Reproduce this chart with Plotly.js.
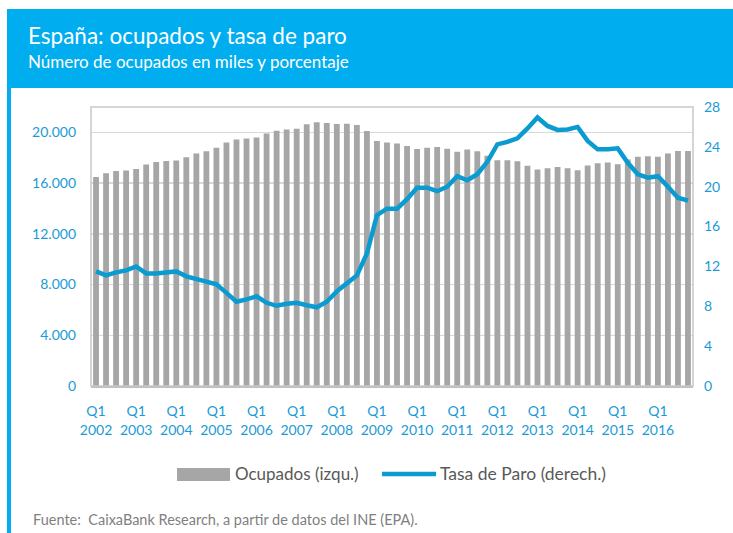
<!DOCTYPE html>
<html>
<head>
<meta charset="utf-8">
<script src="https://cdn.plot.ly/plotly-3.0.1.min.js"></script>
<style>
html,body{margin:0;padding:0;background:#fff;}
#chart{width:733px;height:533px;}
</style>
</head>
<body>
<div id="chart"></div>
<script>
// Quarters 2002 Q1 .. 2016 Q4
const years = [2002,2003,2004,2005,2006,2007,2008,2009,2010,2011,2012,2013,2014,2015,2016];
const quarters = [];
years.forEach(y => { for (let q = 1; q <= 4; q++) quarters.push("Q" + q + " " + y); });

// Ocupados (miles) - left axis
const ocupados = [
  16490,16780,16960,17000,17120,17470,17670,17750,17780,18040,
  18330,18520,18780,19200,19440,19520,19600,19910,20120,20230,
  20280,20630,20790,20730,20650,20670,20590,20100,19310,19210,
  19130,18920,18680,18780,18840,18700,18470,18650,18520,18150,
  17810,17810,17730,17360,17080,17180,17260,17180,17020,17390,
  17570,17630,17490,17860,18070,18120,18070,18340,18540,18540
];

// Tasa de paro (%) - right axis
const tasaParo = [
  11.5,11.1,11.4,11.6,12.0,11.3,11.3,11.4,11.5,11.0,
  10.7,10.5,10.2,9.35,8.45,8.7,9.0,8.35,8.05,8.25,
  8.35,8.1,7.9,8.45,9.5,10.3,11.1,13.3,17.15,17.8,
  17.8,18.75,19.9,19.9,19.55,20.0,21.05,20.65,21.25,22.5,
  24.25,24.5,24.85,25.85,26.95,26.1,25.7,25.75,26.0,24.6,
  23.75,23.75,23.85,22.4,21.25,20.9,21.05,20.0,18.9,18.6
];

const tickVals = quarters.filter(q => q.startsWith("Q1"));
const tickText = tickVals.map(q => q.replace(" ", "<br>"));

const leftTicks = [0,4000,8000,12000,16000,20000];
const rightTicks = [0,4,8,12,16,20,24,28];

const legendNames = ["Ocupados (izqu.)", "Tasa de Paro (derech.)"];
const titleText = "España: ocupados y tasa de paro";
const subtitleText = "Número de ocupados en miles y porcentaje";
const sourceText = "Fuente:  CaixaBank Research, a partir de datos del INE (EPA).";

// layout geometry (pixels)
const W = 733, H = 533;
const M = {l: 91, r: 40, t: 107, b: 147};
const PW = W - M.l - M.r, PH = H - M.t - M.b;
const px = x => (x - M.l) / PW;
const py = y => (H - M.b - y) / PH;

const blue = "#00adef";
const lineBlue = "#0a9bd0";
const tickBlue = "#1a9ad6";
const barGray = "#a6a6a6";
const FONT = "Lato, 'Open Sans', sans-serif";

const traces = [
  {
    type: "bar", x: quarters, y: ocupados, name: legendNames[0],
    marker: {color: barGray}, yaxis: "y", showlegend: false,
    hoverinfo: "x+y"
  },
  {
    type: "scatter", mode: "lines", x: quarters, y: tasaParo, name: legendNames[1],
    line: {color: lineBlue, width: 4.5}, yaxis: "y2", showlegend: false
  }
];

const shapes = [
  // header band
  {type:"rect", xref:"paper", yref:"paper", x0:px(7), x1:px(733), y0:py(88), y1:py(9),
   fillcolor: blue, line:{width:0}, layer:"below"},
  // left stripe
  {type:"rect", xref:"paper", yref:"paper", x0:px(7), x1:px(11), y0:py(533), y1:py(88),
   fillcolor: blue, line:{width:0}, layer:"below"},
  // plot frame
  {type:"rect", xref:"paper", yref:"paper", x0:0, x1:1, y0:0, y1:1,
   fillcolor:"rgba(0,0,0,0)", line:{color:"#c8c8c8", width:1.5}, layer:"above"},
  // legend swatches
  {type:"rect", xref:"paper", yref:"paper", x0:px(177), x1:px(230), y0:py(481), y1:py(468),
   fillcolor: barGray, line:{width:0}},
  {type:"line", xref:"paper", yref:"paper", x0:px(382), x1:px(436), y0:py(474), y1:py(474),
   line:{color: lineBlue, width: 4.5}}
];

const annotations = [
  {text: titleText, xref:"paper", yref:"paper", x:px(26), y:py(35), xanchor:"left", yanchor:"middle",
   showarrow:false, font:{family:FONT, size:22.5, color:"#ffffff"}},
  {text: subtitleText, xref:"paper", yref:"paper", x:px(26), y:py(61), xanchor:"left", yanchor:"middle",
   showarrow:false, font:{family:FONT, size:17, color:"#ffffff"}},
  {text: legendNames[0], xref:"paper", yref:"paper", x:px(233), y:py(474), xanchor:"left", yanchor:"middle",
   showarrow:false, font:{family:FONT, size:17, color:"#595959"}},
  {text: legendNames[1], xref:"paper", yref:"paper", x:px(438), y:py(474), xanchor:"left", yanchor:"middle",
   showarrow:false, font:{family:FONT, size:17.5, color:"#595959"}},
  {text: sourceText, xref:"paper", yref:"paper", x:px(31), y:py(519), xanchor:"left", yanchor:"middle",
   showarrow:false, font:{family:FONT, size:14.5, color:"#7f7f7f"}}
];

const layout = {
  width: W, height: H,
  margin: M,
  paper_bgcolor: "#ffffff", plot_bgcolor: "#ffffff",
  separators: ",.",
  bargap: 0.42,
  font: {family: FONT, size: 14, color: tickBlue},
  xaxis: {
    type: "category", categoryorder: "array", categoryarray: quarters,
    range: [-0.5, quarters.length - 0.5],
    tickmode: "array", tickvals: tickVals, ticktext: tickText,
    tickangle: 0,
    showgrid: false, zeroline: false, showline: true, linecolor: "#bfbfbf", linewidth: 1.5,
    ticks: "", ticklen: 0, ticklabelstandoff: 12,
    tickfont: {family: FONT, size: 14, color: tickBlue}
  },
  yaxis: {
    range: [0, 22000], tickmode: "array", tickvals: leftTicks,
    tickformat: ",d",
    showgrid: true, gridcolor: "#d9d9d9", gridwidth: 1.5, zeroline: false, showline: false,
    ticks: "", ticklabelstandoff: 14,
    tickfont: {family: FONT, size: 14, color: tickBlue}
  },
  yaxis2: {
    range: [0, 28], tickmode: "array", tickvals: rightTicks,
    overlaying: "y", side: "right",
    showgrid: false, zeroline: false, showline: false, ticks: "",
    ticklabelstandoff: 10,
    tickfont: {family: FONT, size: 14, color: tickBlue}
  },
  showlegend: false,
  shapes: shapes,
  annotations: annotations
};

Plotly.newPlot("chart", traces, layout, {displayModeBar: false, staticPlot: true});
</script>
</body>
</html>
